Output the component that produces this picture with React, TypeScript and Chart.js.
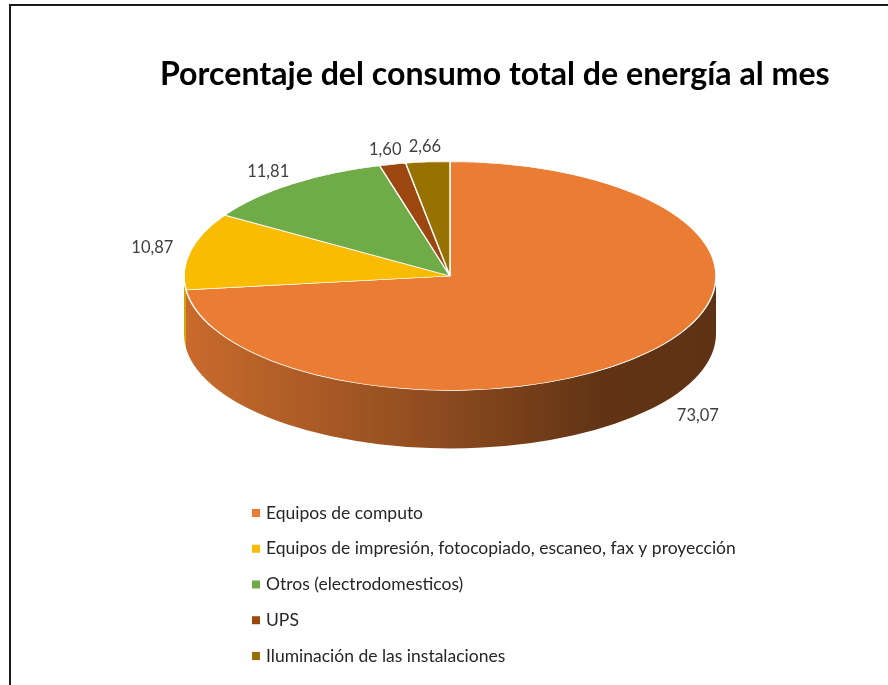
import React, { useEffect, useRef } from "react";
import { Chart, registerables } from "chart.js";

Chart.register(...registerables);

const categories = [
  "Equipos de computo",
  "Equipos de impresión, fotocopiado, escaneo, fax y proyección",
  "Otros (electrodomesticos)",
  "UPS",
  "Iluminación de las instalaciones",
];
const values = [73.07, 10.87, 11.81, 1.6, 2.66];
const colors = ["#EA7C33", "#F9BC00", "#6FAC47", "#9C470F", "#987200"];
const titleText = "Porcentaje del consumo total de energía al mes";

const W = 888;
const H = 685;
const TOP_CY = 276; // vertical center of the top ellipse
const SQUASH = 0.43; // vertical squash of the pie disc
const DEPTH = 58; // thickness of the 3D side

const FONT = "Lato, 'Open Sans', sans-serif";

function shade(hex: string, f: number) {
  const n = parseInt(hex.slice(1), 16);
  const r = Math.round(((n >> 16) & 255) * f);
  const g = Math.round(((n >> 8) & 255) * f);
  const b = Math.round((n & 255) * f);
  return `rgb(${r},${g},${b})`;
}

const pie3d = {
  id: "pie3d",
  beforeDatasetsDraw(chart: any) {
    const ctx = chart.ctx;
    const arcs = chart.getDatasetMeta(0).data;
    if (!arcs.length) return;
    const cx = arcs[0].x;
    const cy0 = arcs[0].y;
    const R = arcs[0].outerRadius;
    const ry = R * SQUASH;
    // side walls (only the front half, angles 0..PI, is visible)
    ctx.save();
    arcs.forEach((a: any, i: number) => {
      const start = a.startAngle;
      const end = a.endAngle;
      for (let k = -1; k <= 1; k++) {
        const s = Math.max(start, 2 * Math.PI * k);
        const e = Math.min(end, 2 * Math.PI * k + Math.PI);
        if (e <= s) continue;
        const base = colors[i % colors.length];
        const grad = ctx.createLinearGradient(cx - R, 0, cx + R, 0);
        grad.addColorStop(0, shade(base, 0.86));
        grad.addColorStop(0.45, shade(base, 0.62));
        grad.addColorStop(0.78, shade(base, 0.42));
        grad.addColorStop(1, shade(base, 0.4));
        ctx.beginPath();
        ctx.ellipse(cx, TOP_CY, R, ry, 0, s, e, false);
        ctx.ellipse(cx, TOP_CY + DEPTH, R, ry, 0, e, s, true);
        ctx.closePath();
        ctx.fillStyle = grad;
        ctx.fill();
      }
    });
    ctx.restore();
    // squash the top disc
    ctx.save();
    ctx.translate(0, TOP_CY);
    ctx.scale(1, SQUASH);
    ctx.translate(0, -cy0);
  },
  afterDatasetsDraw(chart: any) {
    const ctx = chart.ctx;
    ctx.restore();
    const arcs = chart.getDatasetMeta(0).data;
    if (!arcs.length) return;
    const cx = arcs[0].x;
    const R = arcs[0].outerRadius;
    const ds = chart.data.datasets[0].data as number[];
    ctx.save();
    ctx.font = `16.5px ${FONT}`;
    ctx.fillStyle = "#404040";
    ctx.textAlign = "center";
    ctx.textBaseline = "middle";
    arcs.forEach((a: any, i: number) => {
      const mid = (a.startAngle + a.endAngle) / 2;
      const c = Math.cos(mid);
      const s = Math.sin(mid);
      const txt = ds[i].toFixed(2).replace(".", ",");
      const w = ctx.measureText(txt).width;
      const r = s > 0 ? R + 40 : R + 14;
      const x = cx + r * c + c * (w / 2 + 4);
      let y = TOP_CY + r * SQUASH * s + s * 9;
      if (s > 0) y += DEPTH - 12;
      ctx.fillText(txt, x, y);
    });
    ctx.restore();
  },
  afterDraw(chart: any) {
    const ctx = chart.ctx;
    ctx.save();
    // frame
    ctx.strokeStyle = "#1a1a1a";
    ctx.lineWidth = 2;
    ctx.beginPath();
    ctx.moveTo(10, H);
    ctx.lineTo(10, 5);
    ctx.lineTo(W, 5);
    ctx.stroke();
    // title
    ctx.fillStyle = "#000000";
    ctx.textAlign = "left";
    ctx.textBaseline = "middle";
    let size = 30;
    ctx.font = `bold ${size}px ${FONT}`;
    const tw = ctx.measureText(chart.options.plugins.title.text).width;
    size = (size * 670) / tw;
    ctx.font = `bold ${size}px ${FONT}`;
    ctx.fillText(chart.options.plugins.title.text, 160, 75);
    // legend
    const labels = chart.data.labels as string[];
    const bg = chart.data.datasets[0].backgroundColor as string[];
    ctx.font = `17.5px ${FONT}`;
    labels.forEach((lab, i) => {
      const y = 513 + i * 35.75;
      ctx.fillStyle = bg[i];
      ctx.fillRect(252, y - 4, 8, 8);
      ctx.fillStyle = "#262626";
      ctx.fillText(lab, 266, y);
    });
    ctx.restore();
  },
};

export default function App() {
  const ref = useRef<HTMLCanvasElement>(null);
  useEffect(() => {
    if (!ref.current) return;
    const chart = new Chart(ref.current, {
      type: "pie",
      data: {
        labels: categories,
        datasets: [
          {
            data: values,
            backgroundColor: colors,
            borderColor: "#ffffff",
            borderWidth: 1.5,
            clip: false as any,
          },
        ],
      },
      options: {
        responsive: false,
        animation: false,
        radius: 266,
        layout: { padding: { left: 12, right: 0, top: 0, bottom: 0 } },
        plugins: {
          legend: { display: false },
          title: { display: false, text: titleText },
          tooltip: { enabled: false },
        },
      } as any,
      plugins: [pie3d],
    });
    return () => chart.destroy();
  }, []);
  return (
    <div style={{ position: "fixed", left: 0, top: 0, width: W, height: H, background: "#fff" }}>
      <canvas ref={ref} width={W} height={H} style={{ display: "block" }} />
    </div>
  );
}
